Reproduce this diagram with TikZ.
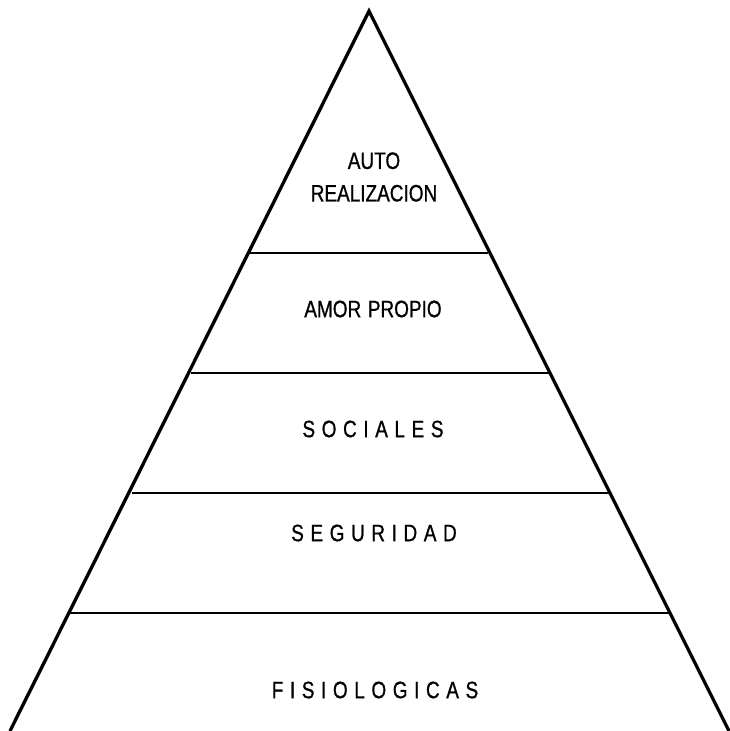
\documentclass[tikz,border=0pt]{standalone}
\usepackage{fontspec}
\setmainfont{Liberation Sans}[FakeStretch=0.8, FakeBold=0.8, WordSpace=1.25]
\begin{document}
\begin{tikzpicture}[x=0.02cm, y=-0.02cm, lvl/.style={font=\fontsize{13.5}{18.5}\selectfont, align=center}]
                \useasboundingbox (0,0) rectangle (730,731);
                \coordinate (top) at (369,11);
                \coordinate (bl) at (10,731);
                \coordinate (br) at (729,731);
                \draw[line width=1.9pt, line join=miter] (bl)--(top)--(br);
                % levels
                \coordinate (l1) at (250,253); \coordinate (r1) at (488,253);
                \coordinate (l2) at (191,373); \coordinate (r2) at (550,373);
                \coordinate (l3) at (132,493); \coordinate (r3) at (610,493);
                \coordinate (l4) at (70,613); \coordinate (r4) at (670,613);
                \foreach \i in {1,...,4}
                    \draw[line width=1pt] (l\i)--(r\i);
                \node[lvl] (auto) at (374,177) {AUTO\\REALIZACION};
                \node[lvl] (amor) at (373,309) {AMOR PROPIO};
                \node[lvl] (soc) at (373,429) {S O C I A L E S};
                \node[lvl] (seg) at (374,533) {S E G U R I D A D};
                \node[lvl] (fis) at (375,690) {F I S I O L O G I C A S};
        \end{tikzpicture}
\end{document}
